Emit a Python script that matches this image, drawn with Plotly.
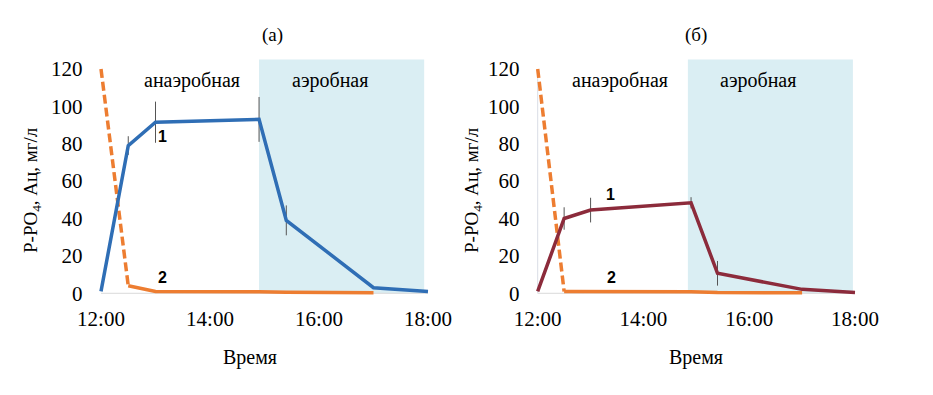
import plotly.graph_objects as go

# page body has an 8px default margin; lay the figure out in the visible area
OFF = 8
W, H = 925, 387

# ---- data ----
time_pts = [12, 12.5, 13, 14.9, 15.4, 17, 18]
po4_a = [1, 79, 91.5, 93, 39, 3, 1]
po4_a_err = [0, 5, 11, 12, 8, 0, 0]
po4_b = [1, 40, 44.5, 48.4, 10.7, 2.1, 0.4]
po4_b_err = [0, 6, 6.6, 3, 6.6, 0, 0]

ac_dash_t = [12, 12.5]
ac_a_dash = [120, 4]
ac_b_dash = [120, 1]
ac_t = [12.5, 13, 14.9, 15.4, 17]
ac_a = [4, 1, 0.8, 0.5, 0.3]
ac_b = [1, 1, 0.8, 0.4, 0.3]

aer_a = (14.9, 17.93)
aer_b = (14.84, 17.96)
shade_top = 125

xtick_vals = [12, 14, 16, 18]
xtick_text = ["12:00", "14:00", "16:00", "18:00"]
ytick_vals = [0, 20, 40, 60, 80, 100, 120]

BLUE = "#2F6EB5"
RED = "#8C2B3B"
ORANGE = "#ED7D31"
SHADE = "#DAEEF3"
SERIF = "Liberation Serif"
SANS = "Liberation Sans"

fig = go.Figure()

def add_panel(xa, ya, po4, err, color, ac_dash, ac):
    fig.add_trace(go.Scatter(x=ac_dash_t, y=ac_dash, mode="lines", xaxis=xa, yaxis=ya,
                             line=dict(color=ORANGE, width=3.5, dash="9px,4px"), showlegend=False))
    fig.add_trace(go.Scatter(x=ac_t, y=ac, mode="lines", xaxis=xa, yaxis=ya,
                             line=dict(color=ORANGE, width=3.5), showlegend=False))
    fig.add_trace(go.Scatter(x=time_pts, y=po4, mode="lines", xaxis=xa, yaxis=ya,
                             line=dict(color=color, width=3.5),
                             error_y=dict(type="data", array=err, color="#555555",
                                          thickness=1, width=0),
                             showlegend=False))

add_panel("x", "y", po4_a, po4_a_err, BLUE, ac_a_dash, ac_a)
add_panel("x2", "y2", po4_b, po4_b_err, RED, ac_b_dash, ac_b)

def px(x):
    return (x - OFF) / W

def py(y):
    return 1 - (y - OFF) / H

# axis domains from pixel positions (screen coordinates)
xr = [11.9, 18.1]
yr = [-3, 126]
dom_y = [py(298.9), py(57.7)]
dom_x1 = [px(95.55), px(433.45)]
dom_x2 = [px(532.4), px(860.3)]

axcommon_x = dict(range=xr, tickvals=xtick_vals, ticktext=xtick_text, showgrid=False,
                  zeroline=False, showline=False, ticks="", ticklabelstandoff=5,
                  automargin=False,
                  tickfont=dict(family=SERIF, size=21, color="black"), fixedrange=True)
axcommon_y = dict(range=yr, tickvals=ytick_vals, showgrid=False, zeroline=False,
                  showline=False, ticks="", domain=dom_y, ticklabelstandoff=12,
                  automargin=False,
                  tickfont=dict(family=SERIF, size=21, color="black"), fixedrange=True)

fig.update_layout(
    width=W, height=H, margin=dict(l=0, r=0, t=0, b=0, pad=0, autoexpand=False),
    paper_bgcolor="white", plot_bgcolor="rgba(0,0,0,0)",
    xaxis=dict(domain=dom_x1, anchor="y", **axcommon_x),
    yaxis=dict(anchor="x", **axcommon_y),
    xaxis2=dict(domain=dom_x2, anchor="y2", **axcommon_x),
    yaxis2=dict(anchor="x2", **axcommon_y),
    showlegend=False,
)

# shaded aerobic zones
for (x0, x1), xref, yref in [(aer_a, "x", "y"), (aer_b, "x2", "y2")]:
    fig.add_shape(type="rect", x0=x0, x1=x1, y0=0, y1=shade_top, xref=xref, yref=yref,
                  fillcolor=SHADE, line=dict(width=0), layer="below")
    fig.add_shape(type="line", x0=12, x1=18, y0=0, y1=0, xref=xref, yref=yref,
                  line=dict(color="#D9D9D9", width=1), layer="below")
fig.add_shape(type="line", x0=12, x1=12, y0=0, y1=120, xref="x2", yref="y2",
              line=dict(color="#D9DDE5", width=1), layer="below")

def ann(text, x, y, size=20, family=SERIF, bold=False, angle=0):
    fig.add_annotation(text=f"<b>{text}</b>" if bold else text, x=px(x), y=py(y),
                       xref="paper", yref="paper", showarrow=False, textangle=angle,
                       xanchor="center", yanchor="middle",
                       font=dict(family=family, size=size, color="black"))

ann("(а)", 272, 35, size=19)
ann("(б)", 696, 35, size=19)
ann("анаэробная", 192, 81)
ann("аэробная", 330, 81)
ann("анаэробная", 620, 81)
ann("аэробная", 758, 81)
ann("1", 162, 136, size=16, family=SANS, bold=True)
ann("2", 162, 277, size=16, family=SANS, bold=True)
ann("1", 610, 194, size=16, family=SANS, bold=True)
ann("2", 611, 277, size=16, family=SANS, bold=True)
ann("Время", 250, 357)
ann("Время", 696, 357)
ann("P-PO<sub>4</sub>, Ац, мг/л", 32, 190, size=19, angle=-90)
ann("P-PO<sub>4</sub>, Ац, мг/л", 473, 190, size=19, angle=-90)

fig.write_html("out.html")
